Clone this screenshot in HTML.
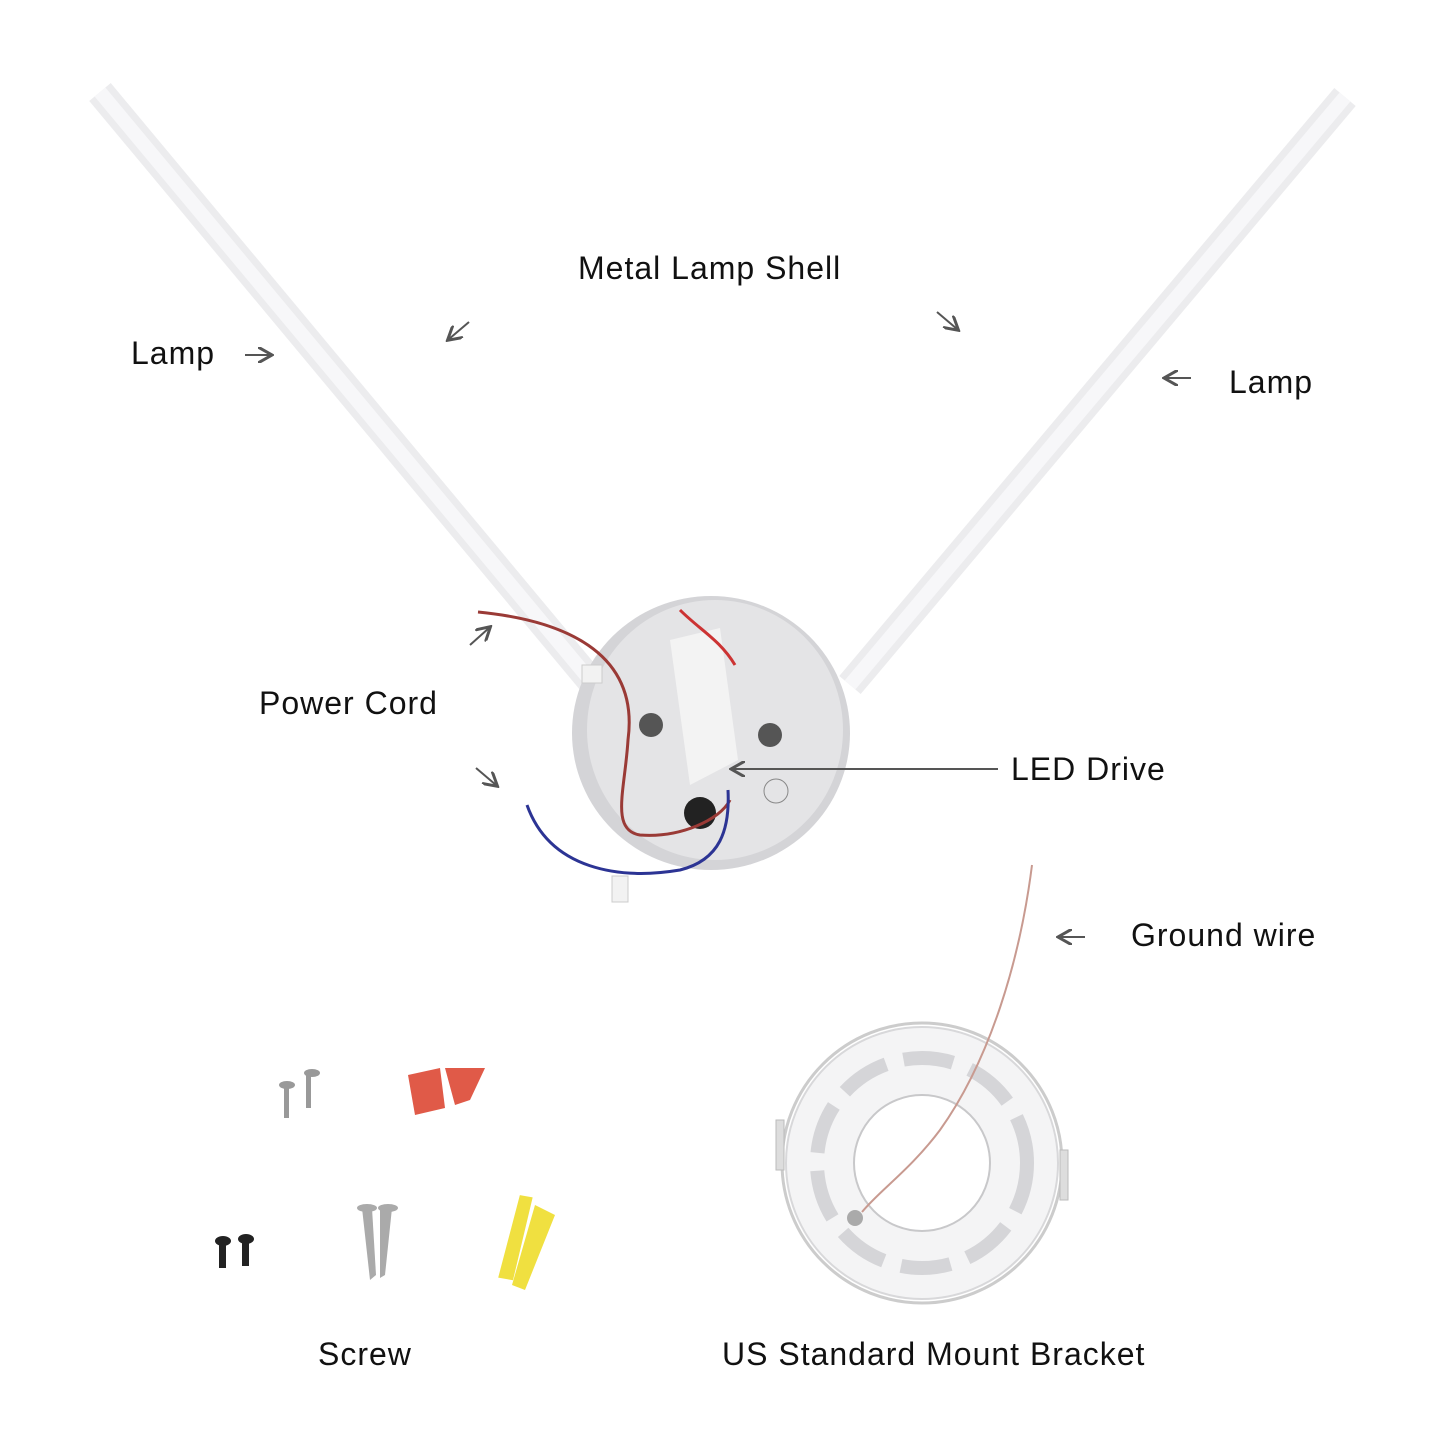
<!DOCTYPE html>
<html><head><meta charset="utf-8"><style>
html,body{margin:0;padding:0;background:#fff;}
svg{display:block}
text{font-family:"Liberation Sans",sans-serif;fill:#111;font-size:32px;letter-spacing:1px}
.a{stroke:#555;stroke-width:2;fill:none}
</style></head><body>
<svg width="1445" height="1445" viewBox="0 0 1445 1445">
<defs><marker id="m" markerWidth="8" markerHeight="8" refX="6" refY="4" orient="auto"><path d="M0,0 L7,4 L0,8" fill="none" stroke="#555" stroke-width="1.5"/></marker></defs>
<!-- lamps -->
<line x1="100" y1="92" x2="590" y2="680" stroke="#ececee" stroke-width="28"/>
<line x1="100" y1="92" x2="590" y2="680" stroke="#f7f7f9" stroke-width="14"/>
<line x1="1345" y1="97" x2="850" y2="685" stroke="#ececee" stroke-width="28"/>
<line x1="1345" y1="97" x2="850" y2="685" stroke="#f7f7f9" stroke-width="14"/>
<!-- disk -->
<ellipse cx="711" cy="733" rx="139" ry="137" fill="#d4d4d7"/>
<ellipse cx="715" cy="730" rx="128" ry="130" fill="#e4e4e6"/>
<path d="M670,640 L720,628 L738,760 L690,785 Z" fill="#f3f3f3"/>
<circle cx="651" cy="725" r="12" fill="#555"/><circle cx="770" cy="735" r="12" fill="#555"/>
<circle cx="700" cy="813" r="16" fill="#222"/>
<circle cx="776" cy="791" r="12" fill="none" stroke="#888"/>
<path d="M478,612 C560,620 640,650 628,740 C625,790 610,830 640,835 C680,838 720,820 730,800" fill="none" stroke="#9a3a36" stroke-width="3"/>
<path d="M527,805 C550,870 620,880 680,870 C720,860 730,830 728,790" fill="none" stroke="#2c3494" stroke-width="3"/>
<path d="M680,610 C700,630 720,640 735,665" fill="none" stroke="#c33" stroke-width="3"/>
<rect x="612" y="876" width="16" height="26" fill="#f2f2f2" stroke="#ccc"/>
<rect x="582" y="665" width="20" height="18" fill="#f2f2f2" stroke="#ccc"/>
<!-- bracket -->
<circle cx="922" cy="1163" r="140" fill="none" stroke="#ccc" stroke-width="3"/>
<circle cx="922" cy="1163" r="136" fill="#f4f4f5" stroke="#d8d8da" stroke-width="2"/>
<circle cx="922" cy="1163" r="68" fill="#fff" stroke="#c8c8ca" stroke-width="2"/>
<circle cx="922" cy="1163" r="105" fill="none" stroke="#d5d5d8" stroke-width="14" stroke-dasharray="50 18"/>
<rect x="776" y="1120" width="8" height="50" fill="#ddd" stroke="#bbb"/>
<rect x="1060" y="1150" width="8" height="50" fill="#ddd" stroke="#bbb"/>
<circle cx="855" cy="1218" r="8" fill="#aaa"/>
<path d="M1032,865 C1020,960 990,1060 940,1130 C910,1170 880,1190 862,1212" fill="none" stroke="#c89a90" stroke-width="2"/>
<!-- screws -->
<g fill="#999"><rect x="284" y="1085" width="5" height="33"/><rect x="306" y="1075" width="5" height="33"/><ellipse cx="287" cy="1085" rx="8" ry="4"/><ellipse cx="312" cy="1073" rx="8" ry="4"/></g>
<g fill="#e05a48"><path d="M408,1075 L440,1068 L445,1108 L415,1115 Z"/><path d="M445,1068 L485,1068 L470,1100 L455,1105 Z"/></g>
<g fill="#222"><rect x="219" y="1240" width="7" height="28"/><rect x="242" y="1238" width="7" height="28"/><ellipse cx="223" cy="1241" rx="8" ry="5"/><ellipse cx="246" cy="1239" rx="8" ry="5"/></g>
<g fill="#aaa"><path d="M362,1208 L372,1208 L376,1275 L370,1280 Z"/><path d="M380,1208 L392,1208 L385,1275 L380,1278 Z"/><ellipse cx="367" cy="1208" rx="10" ry="4"/><ellipse cx="388" cy="1208" rx="10" ry="4"/></g>
<g fill="#f0e040"><path d="M512,1195 L525,1195 L520,1280 L505,1280 Z" transform="rotate(10 515 1240)"/><path d="M535,1205 L555,1215 L525,1290 L512,1285 Z"/></g>
<!-- arrows -->
<line class="a" x1="245" y1="355" x2="270" y2="355" marker-end="url(#m)"/>
<line class="a" x1="469" y1="322" x2="449" y2="339" marker-end="url(#m)"/>
<line class="a" x1="937" y1="312" x2="957" y2="329" marker-end="url(#m)"/>
<line class="a" x1="1191" y1="378" x2="1166" y2="378" marker-end="url(#m)"/>
<line class="a" x1="470" y1="645" x2="489" y2="628" marker-end="url(#m)"/>
<line class="a" x1="476" y1="768" x2="496" y2="785" marker-end="url(#m)"/>
<line class="a" x1="998" y1="769" x2="733" y2="769" marker-end="url(#m)"/>
<line class="a" x1="1085" y1="937" x2="1060" y2="937" marker-end="url(#m)"/>
<!-- labels -->
<text x="578" y="279">Metal Lamp Shell</text>
<text x="131" y="364">Lamp</text>
<text x="1229" y="393">Lamp</text>
<text x="259" y="714">Power Cord</text>
<text x="1011" y="780">LED Drive</text>
<text x="1131" y="946">Ground wire</text>
<text x="318" y="1365">Screw</text>
<text x="722" y="1365">US Standard Mount Bracket</text>
</svg>
</body></html>
